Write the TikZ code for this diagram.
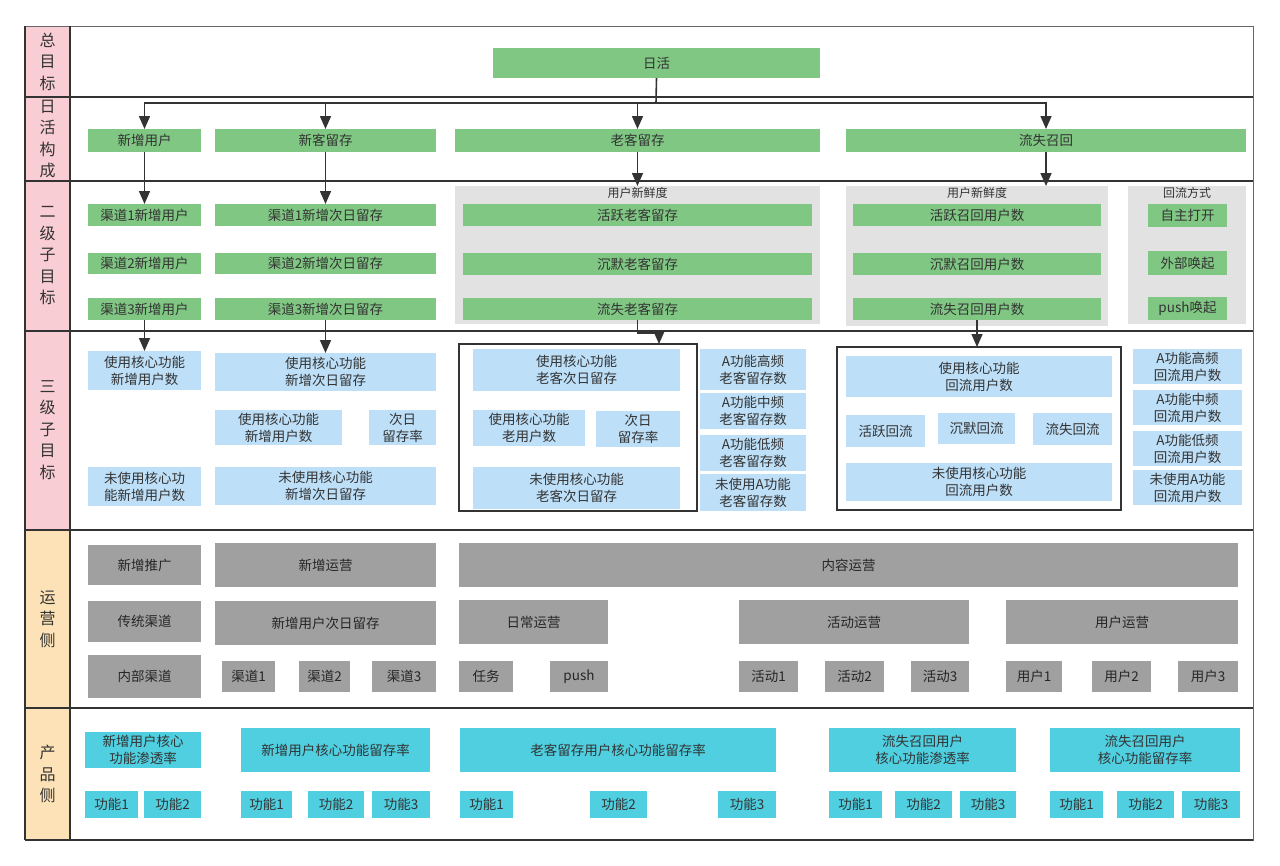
\documentclass[tikz,border=0pt]{standalone}
\usepackage{fontspec}
\setmainfont{Noto Sans CJK SC}
\usetikzlibrary{arrows.meta,calc}
\definecolor{gr}{HTML}{80C783}
\definecolor{lb}{HTML}{BDDFF8}
\definecolor{og}{HTML}{A0A0A0}
\definecolor{cy}{HTML}{4FCFE0}
\definecolor{lg}{HTML}{E2E2E2}
\definecolor{pk}{HTML}{F8CDD3}
\definecolor{orl}{HTML}{FCE2B6}
\definecolor{txt}{HTML}{333333}
\definecolor{ln}{HTML}{333333}
\newcommand\mybox[7]{\node[#2, minimum width={(#5-#3)*1pt}, minimum height={(#6-#4)*1pt}] (#1) at (#3,#4) {#7};}
\begin{document}
\begin{tikzpicture}[x=1pt,y=-1pt,
  box/.style={anchor=north west, inner sep=0pt, outer sep=0pt, align=center, text=txt, font=\fontsize{13.5}{17}\selectfont},
  g/.style={box, fill=gr},
  b/.style={box, fill=lb},
  o/.style={box, fill=og, text=black!85},
  c/.style={box, fill=cy},
  grp/.style={box, fill=lg},
  frm/.style={box, draw=ln, line width=1.8pt},
  gt/.style={anchor=north, inner sep=1pt, text=txt, font=\fontsize{12}{14}\selectfont},
  lab/.style={align=center, inner sep=0pt, text=txt, font=\fontsize{16}{21.5}\selectfont},
  sep/.style={draw=ln, line width=1.6pt},
  arr/.style={draw=ln, line width=1.6pt, -{Triangle[length=13pt,width=11pt]}},
  con/.style={draw=ln, line width=1.6pt}]
\useasboundingbox (0,0) rectangle (1280,865);
\fill[white] (0,0) rectangle (1280,865);
% label column
\fill[pk] (25,26) rectangle (70,531);
\fill[orl] (25,531) rectangle (70,840);
\node[lab] (L1) at (47.5,61.5) {总\\目\\标};
\node[lab] (L2) at (47.5,139) {日\\活\\构\\成};
\node[lab] (L3) at (47.5,256) {二\\级\\子\\目\\标};
\node[lab] (L4) at (47.5,430) {三\\级\\子\\目\\标};
\node[lab] (L5) at (47.5,619) {运\\营\\侧};
\node[lab] (L6) at (47.5,774) {产\\品\\侧};
% frame
\draw[draw=black!60, line width=1pt] (25,26) rectangle (1253,840);
\draw[sep] (25,97) -- (1253,97);
\draw[sep] (25,181) -- (1253,181);
\draw[sep] (25,331) -- (1253,331);
\draw[sep] (25,530) -- (1253,530);
\draw[sep] (25,708) -- (1253,708);
\draw[sep] (70,26) -- (70,840);
\draw[sep] (25,26) -- (25,840);
\draw[sep] (25,840) -- (1253,840);
% row 1
\mybox{rh}{g}{493}{48}{820}{78}{日活}
% row 2
\mybox{xz}{g}{88}{129}{201}{152}{新增用户}
\mybox{xk}{g}{215}{129}{436}{152}{新客留存}
\mybox{lk}{g}{455}{129}{820}{152}{老客留存}
\mybox{ls}{g}{846}{129}{1246}{152}{流失召回}
% row 3 groups
\mybox{g1}{grp}{455}{186}{820}{324}{}
\mybox{g2}{grp}{846}{186}{1108}{326}{}
\mybox{g3}{grp}{1128}{186}{1246}{324}{}
\node[gt] (g1t) at (g1.north) {用户新鲜度};
\node[gt] (g2t) at (g2.north) {用户新鲜度};
\node[gt] (g3t) at (g3.north) {回流方式};
\mybox{c1u}{g}{88}{204}{201}{226}{渠道1新增用户}
\mybox{c2u}{g}{88}{253}{201}{274}{渠道2新增用户}
\mybox{c3u}{g}{88}{298}{201}{320}{渠道3新增用户}
\mybox{c1r}{g}{215}{204}{436}{226}{渠道1新增次日留存}
\mybox{c2r}{g}{215}{253}{436}{274}{渠道2新增次日留存}
\mybox{c3r}{g}{215}{298}{436}{320}{渠道3新增次日留存}
\mybox{lk1}{g}{463}{204}{812}{226}{活跃老客留存}
\mybox{lk2}{g}{463}{253}{812}{275}{沉默老客留存}
\mybox{lk3}{g}{463}{298}{812}{320}{流失老客留存}
\mybox{lz1}{g}{853}{204}{1101}{226}{活跃召回用户数}
\mybox{lz2}{g}{853}{253}{1101}{275}{沉默召回用户数}
\mybox{lz3}{g}{853}{298}{1101}{320}{流失召回用户数}
\mybox{hf1}{g}{1148}{204}{1227}{227}{自主打开}
\mybox{hf2}{g}{1148}{251}{1227}{275}{外部唤起}
\mybox{hf3}{g}{1148}{297}{1227}{320}{push唤起}
% row 4
\mybox{n1}{b}{88}{351}{201}{390}{使用核心功能\\新增用户数}
\mybox{n2}{b}{88}{467}{201}{506}{未使用核心功\\能新增用户数}
\mybox{r1}{b}{215}{353}{436}{391}{使用核心功能\\新增次日留存}
\mybox{r2}{b}{215}{410}{342}{445}{使用核心功能\\新增用户数}
\mybox{r3}{b}{369}{410}{436}{445}{次日\\留存率}
\mybox{r4}{b}{215}{467}{436}{505}{未使用核心功能\\新增次日留存}
\mybox{o1}{b}{473}{349}{680}{391}{使用核心功能\\老客次日留存}
\mybox{o2}{b}{473}{410}{585}{446}{使用核心功能\\老用户数}
\mybox{o3}{b}{596}{411}{680}{447}{次日\\留存率}
\mybox{o4}{b}{473}{467}{680}{509}{未使用核心功能\\老客次日留存}
\mybox{bb1}{frm}{459}{344}{697}{511}{}
\mybox{a1}{b}{700}{349}{806}{390}{A功能高频\\老客留存数}
\mybox{a2}{b}{700}{393}{806}{429}{A功能中频\\老客留存数}
\mybox{a3}{b}{700}{435}{806}{471}{A功能低频\\老客留存数}
\mybox{a4}{b}{700}{474}{806}{511}{未使用A功能\\老客留存数}
\mybox{h1}{b}{846}{356}{1112}{397}{使用核心功能\\回流用户数}
\mybox{h2}{b}{846}{415}{925}{447}{活跃回流}
\mybox{h3}{b}{938}{413}{1015}{444}{沉默回流}
\mybox{h4}{b}{1033}{413}{1112}{445}{流失回流}
\mybox{h5}{b}{846}{463}{1112}{501}{未使用核心功能\\回流用户数}
\mybox{bb2}{frm}{837}{347}{1121}{510}{}
\mybox{ba1}{b}{1133}{349}{1242}{384}{A功能高频\\回流用户数}
\mybox{ba2}{b}{1133}{390}{1242}{425}{A功能中频\\回流用户数}
\mybox{ba3}{b}{1133}{431}{1242}{466}{A功能低频\\回流用户数}
\mybox{ba4}{b}{1133}{470}{1242}{505}{未使用A功能\\回流用户数}
% row 5
\mybox{p1}{o}{88}{545}{201}{585}{新增推广}
\mybox{p2}{o}{88}{601}{201}{642}{传统渠道}
\mybox{p3}{o}{88}{655}{201}{698}{内部渠道}
\mybox{p4}{o}{215}{543}{436}{587}{新增运营}
\mybox{p5}{o}{215}{601}{436}{645}{新增用户次日留存}
\mybox{p6}{o}{222}{661}{275}{692}{渠道1}
\mybox{p7}{o}{299}{661}{350}{692}{渠道2}
\mybox{p8}{o}{372}{661}{436}{692}{渠道3}
\mybox{p9}{o}{459}{543}{1238}{587}{内容运营}
\mybox{p10}{o}{459}{600}{608}{644}{日常运营}
\mybox{p11}{o}{459}{661}{513}{692}{任务}
\mybox{p12}{o}{550}{661}{608}{692}{push}
\mybox{p13}{o}{739}{600}{969}{644}{活动运营}
\mybox{p14}{o}{739}{661}{798}{692}{活动1}
\mybox{p15}{o}{825}{661}{884}{692}{活动2}
\mybox{p16}{o}{911}{661}{969}{692}{活动3}
\mybox{p17}{o}{1006}{600}{1238}{644}{用户运营}
\mybox{p18}{o}{1006}{661}{1062}{692}{用户1}
\mybox{p19}{o}{1092}{661}{1151}{692}{用户2}
\mybox{p20}{o}{1178}{661}{1238}{692}{用户3}
% row 6
\mybox{q1}{c}{85}{732}{201}{768}{新增用户核心\\功能渗透率}
\mybox{q2}{c}{85}{791}{138}{818}{功能1}
\mybox{q3}{c}{144}{791}{201}{818}{功能2}
\mybox{q4}{c}{241}{728}{430}{772}{新增用户核心功能留存率}
\mybox{q5}{c}{241}{791}{292}{818}{功能1}
\mybox{q6}{c}{308}{791}{364}{818}{功能2}
\mybox{q7}{c}{372}{791}{430}{818}{功能3}
\mybox{q8}{c}{460}{728}{776}{772}{老客留存用户核心功能留存率}
\mybox{q9}{c}{460}{791}{513}{818}{功能1}
\mybox{q10}{c}{590}{791}{647}{818}{功能2}
\mybox{q11}{c}{718}{791}{776}{818}{功能3}
\mybox{q12}{c}{829}{728}{1016}{772}{流失召回用户\\核心功能渗透率}
\mybox{q13}{c}{829}{791}{882}{818}{功能1}
\mybox{q14}{c}{895}{791}{952}{818}{功能2}
\mybox{q15}{c}{960}{791}{1016}{818}{功能3}
\mybox{q16}{c}{1050}{728}{1240}{772}{流失召回用户\\核心功能留存率}
\mybox{q17}{c}{1050}{791}{1103}{818}{功能1}
\mybox{q18}{c}{1117}{791}{1174}{818}{功能2}
\mybox{q19}{c}{1182}{791}{1240}{818}{功能3}
% connectors
\coordinate (bus) at (656,103);
\draw[con] (rh.south) -- (bus);
\draw[arr] (bus) -| (xz.north);
\draw[arr] (bus) -| (xk.north);
\draw[arr] (bus) -| (lk.north);
\draw[arr] (bus) -| (ls.north);
\draw[arr] (xz.south) -- (xz.south |- c1u.north);
\draw[arr] (xk.south) -- (xk.south |- c1r.north);
\draw[arr] (lk.south) -- (lk.south |- g1.north);
\draw[arr] (ls.south) -- (ls.south |- g2.north);
\draw[arr] (c3u.south) -- (c3u.south |- n1.north);
\draw[arr] (c3r.south) -- (c3r.south |- r1.north);
\coordinate (t1) at ($(bb1.north)+(81,0)$);
\draw[arr] (lk3.south) -- ++(0,13) -| (t1);
\draw[arr] (lz3.south) -- (lz3.south |- bb2.north);
\end{tikzpicture}
\end{document}
